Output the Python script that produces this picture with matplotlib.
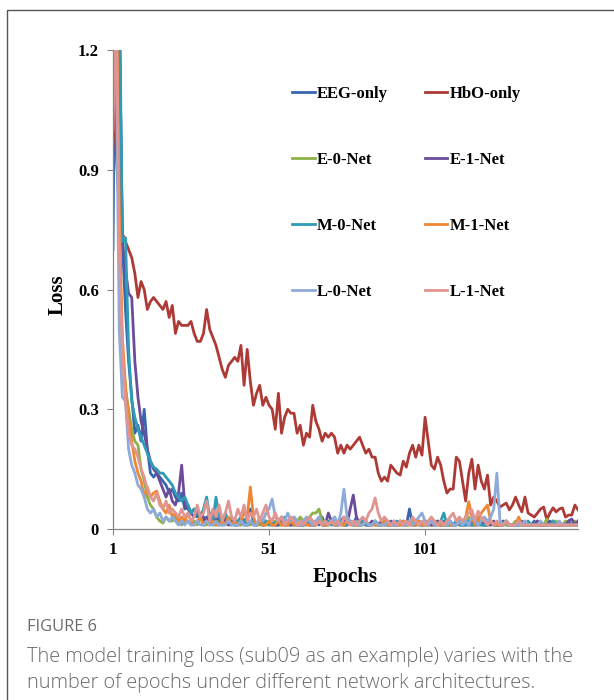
import matplotlib.pyplot as plt
import matplotlib.patches as mpatches
import numpy as np

# training loss per epoch (sub09)
epochs = np.arange(1, 151)

eeg_only = [
    0.70, 1.55, 1.30, 0.72, 0.55, 0.42, 0.33, 0.24, 0.26, 0.22,
    0.30, 0.20, 0.14, 0.13, 0.14, 0.13, 0.12, 0.11, 0.09, 0.10,
    0.08, 0.07, 0.09, 0.05, 0.06, 0.04, 0.05, 0.03, 0.04, 0.03,
    0.02, 0.04, 0.02, 0.03, 0.02, 0.01, 0.03, 0.02, 0.02, 0.01,
    0.02, 0.01, 0.02, 0.03, 0.05, 0.02, 0.01, 0.02, 0.01, 0.02,
    0.01, 0.02, 0.01, 0.01, 0.03, 0.01, 0.02, 0.01, 0.01, 0.02,
    0.01, 0.01, 0.02, 0.01, 0.01, 0.02, 0.01, 0.03, 0.01, 0.01,
    0.02, 0.01, 0.01, 0.02, 0.01, 0.01, 0.02, 0.01, 0.03, 0.01,
    0.01, 0.02, 0.01, 0.01, 0.02, 0.01, 0.01, 0.02, 0.01, 0.01,
    0.02, 0.01, 0.01, 0.02, 0.01, 0.05, 0.01, 0.02, 0.01, 0.01,
    0.02, 0.01, 0.01, 0.02, 0.01, 0.01, 0.02, 0.01, 0.01, 0.01,
    0.02, 0.01, 0.01, 0.02, 0.01, 0.01, 0.01, 0.02, 0.01, 0.01,
    0.01, 0.02, 0.01, 0.01, 0.01, 0.02, 0.01, 0.01, 0.01, 0.01,
    0.02, 0.01, 0.01, 0.01, 0.01, 0.02, 0.01, 0.01, 0.01, 0.01,
    0.01, 0.02, 0.01, 0.01, 0.01, 0.01, 0.02, 0.01, 0.01, 0.01,
]

hbo_only = [
    1.12, 0.95, 0.80, 0.74, 0.72, 0.70, 0.68, 0.64, 0.58, 0.62,
    0.60, 0.55, 0.57, 0.58, 0.57, 0.56, 0.55, 0.57, 0.53, 0.56,
    0.49, 0.52, 0.51, 0.51, 0.51, 0.52, 0.49, 0.47, 0.47, 0.49,
    0.55, 0.50, 0.48, 0.46, 0.43, 0.40, 0.38, 0.41, 0.42, 0.43,
    0.42, 0.46, 0.36, 0.45, 0.37, 0.31, 0.34, 0.36, 0.31, 0.33,
    0.31, 0.30, 0.25, 0.34, 0.24, 0.28, 0.30, 0.29, 0.29, 0.24,
    0.26, 0.21, 0.24, 0.23, 0.31, 0.27, 0.25, 0.22, 0.24, 0.23,
    0.24, 0.23, 0.19, 0.21, 0.19, 0.21, 0.20, 0.21, 0.22, 0.23,
    0.21, 0.19, 0.20, 0.18, 0.18, 0.14, 0.12, 0.13, 0.12, 0.16,
    0.15, 0.14, 0.135, 0.17, 0.155, 0.19, 0.21, 0.18, 0.21, 0.185,
    0.28, 0.22, 0.16, 0.15, 0.18, 0.16, 0.12, 0.09, 0.10, 0.10,
    0.18, 0.17, 0.12, 0.07, 0.14, 0.175, 0.10, 0.16, 0.12, 0.10,
    0.135, 0.06, 0.08, 0.07, 0.055, 0.06, 0.065, 0.048, 0.06, 0.08,
    0.06, 0.043, 0.08, 0.04, 0.035, 0.03, 0.04, 0.05, 0.055, 0.023,
    0.04, 0.053, 0.043, 0.05, 0.053, 0.03, 0.035, 0.035, 0.06, 0.048,
]

e0_net = [
    1.30, 1.40, 0.70, 0.45, 0.35, 0.30, 0.25, 0.22, 0.21, 0.15,
    0.12, 0.08, 0.06, 0.05, 0.03, 0.02, 0.015, 0.03, 0.02, 0.02,
    0.03, 0.02, 0.01, 0.02, 0.02, 0.01, 0.02, 0.01, 0.03, 0.01,
    0.01, 0.02, 0.01, 0.01, 0.02, 0.01, 0.02, 0.01, 0.01, 0.02,
    0.01, 0.01, 0.02, 0.01, 0.01, 0.02, 0.01, 0.01, 0.01, 0.02,
    0.01, 0.01, 0.02, 0.01, 0.01, 0.01, 0.02, 0.01, 0.03, 0.02,
    0.03, 0.02, 0.02, 0.03, 0.04, 0.04, 0.05, 0.02, 0.01, 0.02,
    0.01, 0.01, 0.02, 0.01, 0.01, 0.01, 0.02, 0.01, 0.01, 0.01,
    0.02, 0.01, 0.01, 0.01, 0.02, 0.01, 0.01, 0.01, 0.02, 0.01,
    0.01, 0.01, 0.02, 0.01, 0.01, 0.01, 0.02, 0.01, 0.01, 0.01,
    0.02, 0.01, 0.01, 0.01, 0.02, 0.01, 0.01, 0.01, 0.02, 0.01,
    0.01, 0.02, 0.01, 0.01, 0.03, 0.01, 0.02, 0.01, 0.01, 0.01,
    0.02, 0.01, 0.01, 0.01, 0.02, 0.01, 0.01, 0.01, 0.01, 0.02,
    0.01, 0.01, 0.02, 0.01, 0.01, 0.01, 0.02, 0.01, 0.01, 0.025,
    0.01, 0.01, 0.02, 0.01, 0.01, 0.02, 0.01, 0.01, 0.02, 0.01,
]

e1_net = [
    1.05, 1.45, 1.30, 0.72, 0.65, 0.59, 0.58, 0.42, 0.33, 0.27,
    0.24, 0.20, 0.17, 0.15, 0.14, 0.12, 0.10, 0.08, 0.10, 0.07,
    0.06, 0.09, 0.16, 0.06, 0.05, 0.04, 0.03, 0.05, 0.03, 0.02,
    0.03, 0.02, 0.04, 0.02, 0.01, 0.03, 0.02, 0.01, 0.02, 0.01,
    0.01, 0.02, 0.01, 0.01, 0.02, 0.01, 0.01, 0.02, 0.01, 0.01,
    0.02, 0.01, 0.01, 0.01, 0.02, 0.01, 0.01, 0.01, 0.02, 0.01,
    0.01, 0.01, 0.02, 0.01, 0.01, 0.01, 0.02, 0.01, 0.01, 0.04,
    0.02, 0.01, 0.01, 0.02, 0.03, 0.01, 0.05, 0.085, 0.03, 0.01,
    0.02, 0.01, 0.01, 0.02, 0.01, 0.01, 0.02, 0.01, 0.01, 0.02,
    0.01, 0.01, 0.02, 0.01, 0.01, 0.02, 0.01, 0.01, 0.02, 0.01,
    0.01, 0.02, 0.01, 0.01, 0.02, 0.01, 0.01, 0.01, 0.02, 0.01,
    0.01, 0.02, 0.01, 0.01, 0.01, 0.02, 0.01, 0.01, 0.02, 0.01,
    0.01, 0.01, 0.02, 0.01, 0.01, 0.01, 0.02, 0.01, 0.01, 0.01,
    0.01, 0.02, 0.01, 0.01, 0.01, 0.01, 0.02, 0.01, 0.01, 0.01,
    0.02, 0.01, 0.01, 0.01, 0.01, 0.01, 0.02, 0.025, 0.01, 0.02,
]

m0_net = [
    1.50, 1.60, 1.40, 0.72, 0.73, 0.45, 0.32, 0.28, 0.25, 0.23,
    0.21, 0.19, 0.17, 0.155, 0.15, 0.14, 0.14, 0.13, 0.12, 0.11,
    0.09, 0.08, 0.07, 0.08, 0.06, 0.04, 0.05, 0.04, 0.03, 0.05,
    0.08, 0.03, 0.02, 0.08, 0.03, 0.02, 0.04, 0.02, 0.03, 0.02,
    0.02, 0.03, 0.02, 0.01, 0.02, 0.02, 0.01, 0.02, 0.01, 0.02,
    0.01, 0.02, 0.01, 0.02, 0.01, 0.03, 0.01, 0.02, 0.01, 0.01,
    0.02, 0.01, 0.01, 0.02, 0.01, 0.01, 0.02, 0.01, 0.01, 0.02,
    0.01, 0.03, 0.01, 0.02, 0.01, 0.01, 0.02, 0.01, 0.01, 0.01,
    0.02, 0.01, 0.01, 0.01, 0.02, 0.01, 0.01, 0.02, 0.01, 0.01,
    0.01, 0.02, 0.01, 0.01, 0.01, 0.02, 0.01, 0.01, 0.02, 0.01,
    0.01, 0.01, 0.02, 0.01, 0.01, 0.02, 0.04, 0.01, 0.01, 0.01,
    0.02, 0.01, 0.01, 0.01, 0.02, 0.01, 0.01, 0.03, 0.01, 0.01,
    0.01, 0.02, 0.01, 0.01, 0.01, 0.01, 0.02, 0.01, 0.01, 0.01,
    0.01, 0.01, 0.01, 0.02, 0.01, 0.01, 0.01, 0.01, 0.01, 0.01,
    0.01, 0.02, 0.01, 0.01, 0.01, 0.01, 0.01, 0.01, 0.01, 0.01,
]

m1_net = [
    1.30, 1.45, 0.80, 0.48, 0.36, 0.28, 0.22, 0.17, 0.14, 0.12,
    0.08, 0.105, 0.08, 0.09, 0.095, 0.07, 0.05, 0.04, 0.06, 0.03,
    0.04, 0.02, 0.03, 0.02, 0.04, 0.02, 0.01, 0.02, 0.03, 0.01,
    0.02, 0.01, 0.02, 0.01, 0.01, 0.02, 0.01, 0.03, 0.01, 0.02,
    0.01, 0.02, 0.04, 0.03, 0.105, 0.03, 0.01, 0.02, 0.01, 0.01,
    0.02, 0.01, 0.01, 0.02, 0.01, 0.01, 0.01, 0.02, 0.01, 0.01,
    0.01, 0.02, 0.01, 0.01, 0.01, 0.01, 0.02, 0.01, 0.01, 0.01,
    0.02, 0.01, 0.01, 0.01, 0.01, 0.02, 0.01, 0.01, 0.01, 0.01,
    0.01, 0.02, 0.01, 0.01, 0.01, 0.01, 0.01, 0.02, 0.01, 0.01,
    0.01, 0.01, 0.01, 0.02, 0.01, 0.01, 0.01, 0.01, 0.02, 0.01,
    0.01, 0.01, 0.02, 0.01, 0.01, 0.01, 0.01, 0.02, 0.01, 0.01,
    0.01, 0.02, 0.01, 0.03, 0.068, 0.03, 0.01, 0.02, 0.04, 0.05,
    0.06, 0.02, 0.01, 0.01, 0.01, 0.01, 0.02, 0.01, 0.01, 0.01,
    0.03, 0.01, 0.01, 0.01, 0.01, 0.01, 0.01, 0.01, 0.01, 0.01,
    0.01, 0.01, 0.01, 0.01, 0.01, 0.01, 0.01, 0.01, 0.01, 0.01,
]

l0_net = [
    1.10, 1.20, 0.50, 0.33, 0.32, 0.20, 0.16, 0.14, 0.11, 0.10,
    0.08, 0.05, 0.04, 0.05, 0.03, 0.04, 0.02, 0.03, 0.02, 0.03,
    0.02, 0.01, 0.02, 0.01, 0.02, 0.01, 0.01, 0.02, 0.01, 0.01,
    0.02, 0.01, 0.01, 0.02, 0.01, 0.01, 0.01, 0.02, 0.01, 0.01,
    0.01, 0.02, 0.01, 0.01, 0.02, 0.01, 0.01, 0.03, 0.02, 0.04,
    0.05, 0.075, 0.03, 0.02, 0.03, 0.02, 0.04, 0.02, 0.03, 0.02,
    0.01, 0.02, 0.03, 0.02, 0.01, 0.02, 0.03, 0.01, 0.02, 0.01,
    0.02, 0.03, 0.01, 0.04, 0.10, 0.03, 0.02, 0.01, 0.02, 0.01,
    0.01, 0.02, 0.01, 0.01, 0.02, 0.01, 0.01, 0.01, 0.02, 0.01,
    0.01, 0.01, 0.02, 0.01, 0.01, 0.02, 0.01, 0.02, 0.03, 0.04,
    0.02, 0.01, 0.02, 0.01, 0.01, 0.02, 0.01, 0.01, 0.02, 0.01,
    0.01, 0.02, 0.01, 0.02, 0.01, 0.03, 0.02, 0.01, 0.02, 0.03,
    0.02, 0.03, 0.05, 0.14, 0.02, 0.01, 0.02, 0.01, 0.01, 0.01,
    0.01, 0.01, 0.02, 0.01, 0.01, 0.01, 0.01, 0.02, 0.01, 0.01,
    0.01, 0.01, 0.01, 0.02, 0.01, 0.01, 0.01, 0.01, 0.01, 0.01,
]

l1_net = [
    1.00, 1.35, 0.70, 0.45, 0.32, 0.24, 0.21, 0.20, 0.18, 0.15,
    0.13, 0.10, 0.08, 0.07, 0.09, 0.06, 0.05, 0.07, 0.04, 0.05,
    0.04, 0.03, 0.05, 0.03, 0.04, 0.02, 0.03, 0.06, 0.03, 0.04,
    0.07, 0.02, 0.05, 0.03, 0.06, 0.02, 0.04, 0.07, 0.03, 0.02,
    0.05, 0.03, 0.06, 0.02, 0.04, 0.03, 0.05, 0.02, 0.04, 0.06,
    0.03, 0.02, 0.04, 0.02, 0.03, 0.01, 0.02, 0.03, 0.02, 0.01,
    0.02, 0.01, 0.02, 0.03, 0.02, 0.01, 0.02, 0.01, 0.02, 0.01,
    0.02, 0.01, 0.02, 0.01, 0.03, 0.02, 0.01, 0.02, 0.01, 0.02,
    0.03, 0.02, 0.04, 0.05, 0.078, 0.04, 0.02, 0.03, 0.02, 0.01,
    0.02, 0.01, 0.02, 0.01, 0.02, 0.01, 0.03, 0.02, 0.01, 0.02,
    0.01, 0.02, 0.03, 0.02, 0.01, 0.02, 0.01, 0.02, 0.03, 0.04,
    0.02, 0.03, 0.02, 0.03, 0.04, 0.048, 0.02, 0.045, 0.03, 0.02,
    0.01, 0.02, 0.01, 0.02, 0.01, 0.01, 0.02, 0.01, 0.01, 0.01,
    0.02, 0.01, 0.01, 0.01, 0.01, 0.01, 0.01, 0.01, 0.01, 0.01,
    0.01, 0.01, 0.01, 0.01, 0.01, 0.01, 0.01, 0.01, 0.01, 0.01,
]

series_names = ['EEG-only', 'HbO-only', 'E-0-Net', 'E-1-Net',
                'M-0-Net', 'M-1-Net', 'L-0-Net', 'L-1-Net']
series_values = [eeg_only, hbo_only, e0_net, e1_net, m0_net, m1_net, l0_net, l1_net]
series_colors = ['#3866b0', '#ae3a36', '#8db246', '#6a4c9b',
                 '#2f9bb5', '#ef8632', '#8eaad9', '#e09591']

y_ticks = [0, 0.3, 0.6, 0.9, 1.2]
y_ticklabels = ['0', '0.3', '0.6', '0.9', '1.2']
x_ticks = [1, 51, 101]

W, H = 614, 700
fig = plt.figure(figsize=(W / 100, H / 100), dpi=100)

# outer frame of the figure panel
frame = mpatches.Rectangle((7 / W, -0.05), 1.2, 1 - 10 / H + 0.05,
                           transform=fig.transFigure, fill=False,
                           ec='#555555', lw=1.0)
fig.patches.append(frame)

ax = fig.add_axes([113 / W, 171 / H, 465 / W, 479 / H])
serif = 'Liberation Serif'

lines = []
for name, vals, col in zip(series_names, series_values, series_colors):
    ln, = ax.plot(epochs, vals, color=col, lw=2.0, label=name, solid_joinstyle='round')
    lines.append(ln)

ax.set_xlim(1, 150)
ax.set_ylim(0, 1.2)
ax.set_yticks(y_ticks)
ax.set_yticklabels(y_ticklabels, fontfamily=serif, fontweight='bold', fontsize=12)
ax.set_xticks(x_ticks)
ax.set_xticklabels([str(t) for t in x_ticks], fontfamily=serif, fontweight='bold', fontsize=12)
ax.tick_params(axis='both', direction='out', length=4, width=0.8, color='#868686')
ax.tick_params(axis='y', pad=6)
ax.tick_params(axis='x', pad=5)
for s in ['top', 'right']:
    ax.spines[s].set_visible(False)
for s in ['left', 'bottom']:
    ax.spines[s].set_color('#868686')
    ax.spines[s].set_linewidth(0.9)

fig.text(58 / W, 1 - 295 / H, 'Loss', rotation=90, ha='center', va='center',
         fontfamily=serif, fontweight='bold', fontsize=15)
fig.text(345 / W, 1 - 577 / H, 'Epochs', ha='center', va='center',
         fontfamily=serif, fontweight='bold', fontsize=15)

# legend filled row by row (two entries per row)
order = [0, 2, 4, 6, 1, 3, 5, 7]
leg = ax.legend([lines[i] for i in order], [series_names[i] for i in order],
                ncol=2, loc='upper left', bbox_to_anchor=(292 / W, 1 - 86 / H),
                bbox_transform=fig.transFigure, frameon=False, borderpad=0,
                borderaxespad=0, handlelength=1.35, handletextpad=0.15,
                columnspacing=2.2, labelspacing=2.99,
                prop={'family': serif, 'weight': 'bold', 'size': 12})

# caption
fig.text(27 / W, 1 - 627 / H, 'FIGURE 6', ha='left', va='center',
         fontfamily='Open Sans', fontsize=11.8, color='#6a6a6a')
fig.text(27 / W, 1 - 657 / H,
         'The model training loss (sub09 as an example) varies with the',
         ha='left', va='center', fontfamily='Open Sans', fontweight='light',
         fontsize=14.3, color='#6a6a6a')
fig.text(27 / W, 1 - 683 / H,
         'number of epochs under different network architectures.',
         ha='left', va='center', fontfamily='Open Sans', fontweight='light',
         fontsize=14.3, color='#6a6a6a')

fig.savefig('out.png', dpi=100)
